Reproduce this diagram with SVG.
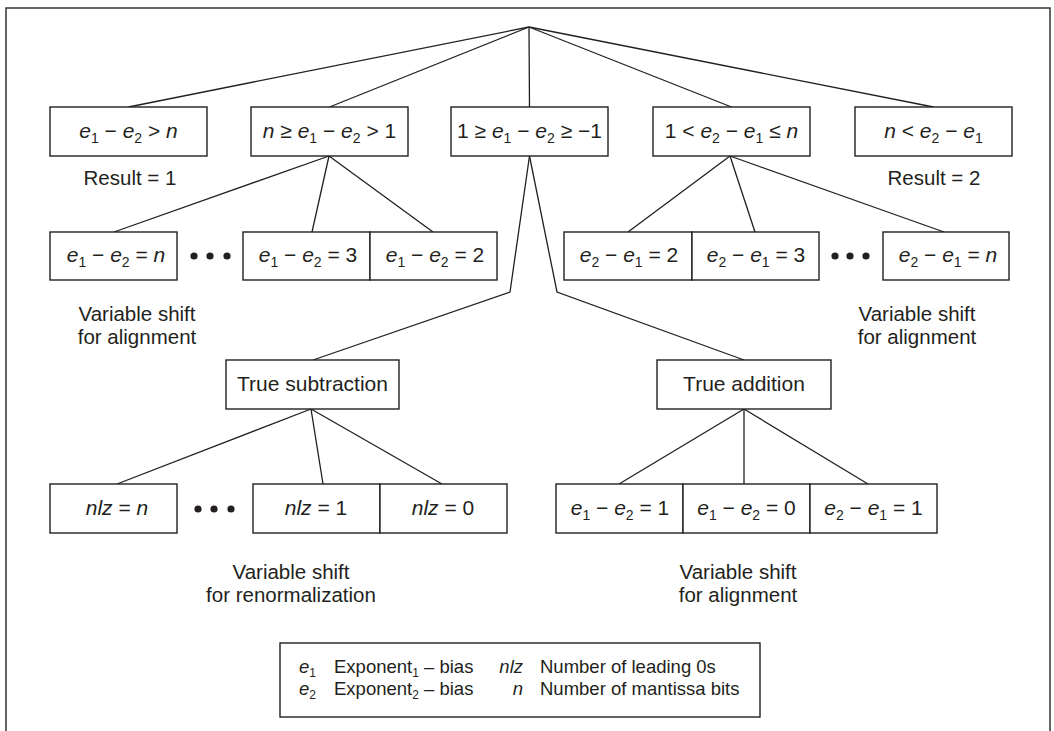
<svg xmlns="http://www.w3.org/2000/svg" width="1054" height="731" viewBox="0 0 1054 731">
<style>
text{font-family:"Liberation Sans",Arial,Helvetica,sans-serif;fill:#231f20;font-size:21px}
.lbl{font-size:20.5px;text-anchor:middle}
.bt{text-anchor:middle}
.i{font-style:italic}
.sb{font-size:14px}
.lg{font-size:18.5px}
.lg .sb{font-size:12px}
rect{fill:#fff;stroke:#231f20;stroke-width:1.4}
line,polyline{stroke:#231f20;stroke-width:1.3;fill:none}
.dot{fill:#231f20}
</style>
<rect x="0" y="0" width="1054" height="731" style="fill:#fff;stroke:none"/>
<polyline points="6,731 6,8 1050,8 1050,731" style="stroke:#333;stroke-width:1.5"/>

<g id="connectors">
<line x1="529" y1="27" x2="128.5" y2="107"/>
<line x1="529" y1="27" x2="329.5" y2="107"/>
<line x1="529" y1="27" x2="529.5" y2="107"/>
<line x1="529" y1="27" x2="731.5" y2="107"/>
<line x1="529" y1="27" x2="933.5" y2="107"/>
<line x1="329" y1="156" x2="114" y2="232"/>
<line x1="329" y1="156" x2="312" y2="232"/>
<line x1="329" y1="156" x2="433" y2="232"/>
<line x1="730" y1="156" x2="628" y2="232"/>
<line x1="730" y1="156" x2="755" y2="232"/>
<line x1="730" y1="156" x2="944" y2="232"/>
<polyline points="529.5,156 510,292 313,360"/>
<polyline points="529.5,156 557,292 744,360"/>
<line x1="311" y1="409" x2="117" y2="484"/>
<line x1="311" y1="409" x2="323" y2="484"/>
<line x1="311" y1="409" x2="442" y2="484"/>
<line x1="744" y1="409" x2="619" y2="484"/>
<line x1="744" y1="409" x2="744" y2="484"/>
<line x1="744" y1="409" x2="868" y2="484"/>
</g>

<g id="n1"><rect x="50" y="107" width="157" height="49"/>
<text class="bt" x="128.5" y="138"><tspan class="i">e</tspan><tspan class="sb" dy="5">1</tspan><tspan dy="-5"> − </tspan><tspan class="i">e</tspan><tspan class="sb" dy="5">2</tspan><tspan dy="-5"> &gt; </tspan><tspan class="i">n</tspan></text></g>
<g id="n2"><rect x="251" y="107" width="157" height="49"/>
<text class="bt" x="329.5" y="138"><tspan class="i">n</tspan> ≥ <tspan class="i">e</tspan><tspan class="sb" dy="5">1</tspan><tspan dy="-5"> − </tspan><tspan class="i">e</tspan><tspan class="sb" dy="5">2</tspan><tspan dy="-5"> &gt; 1</tspan></text></g>
<g id="n3"><rect x="451" y="107" width="157" height="49"/>
<text class="bt" x="529.5" y="138">1 ≥ <tspan class="i">e</tspan><tspan class="sb" dy="5">1</tspan><tspan dy="-5"> − </tspan><tspan class="i">e</tspan><tspan class="sb" dy="5">2</tspan><tspan dy="-5"> ≥ −1</tspan></text></g>
<g id="n4"><rect x="653" y="107" width="157" height="49"/>
<text class="bt" x="731.5" y="138">1 &lt; <tspan class="i">e</tspan><tspan class="sb" dy="5">2</tspan><tspan dy="-5"> − </tspan><tspan class="i">e</tspan><tspan class="sb" dy="5">1</tspan><tspan dy="-5"> ≤ </tspan><tspan class="i">n</tspan></text></g>
<g id="n5"><rect x="855" y="107" width="157" height="49"/>
<text class="bt" x="933.5" y="138"><tspan class="i">n</tspan> &lt; <tspan class="i">e</tspan><tspan class="sb" dy="5">2</tspan><tspan dy="-5"> − </tspan><tspan class="i">e</tspan><tspan class="sb" dy="5">1</tspan></text></g>

<g id="res1"><text class="lbl" x="130" y="185">Result = 1</text></g>
<g id="res2"><text class="lbl" x="934" y="185">Result = 2</text></g>

<g id="l1"><rect x="50" y="232" width="127" height="48"/>
<text class="bt" x="116" y="262"><tspan class="i">e</tspan><tspan class="sb" dy="5">1</tspan><tspan dy="-5"> − </tspan><tspan class="i">e</tspan><tspan class="sb" dy="5">2</tspan><tspan dy="-5"> = </tspan><tspan class="i">n</tspan></text></g>
<g id="ldots"><circle class="dot" cx="194" cy="256" r="3.6"/><circle class="dot" cx="210" cy="256" r="3.6"/><circle class="dot" cx="227" cy="256" r="3.6"/></g>
<g id="l2"><rect x="243" y="232" width="127" height="48"/>
<text class="bt" x="308" y="262"><tspan class="i">e</tspan><tspan class="sb" dy="5">1</tspan><tspan dy="-5"> − </tspan><tspan class="i">e</tspan><tspan class="sb" dy="5">2</tspan><tspan dy="-5"> = 3</tspan></text></g>
<g id="l3"><rect x="370" y="232" width="127" height="48"/>
<text class="bt" x="435" y="262"><tspan class="i">e</tspan><tspan class="sb" dy="5">1</tspan><tspan dy="-5"> − </tspan><tspan class="i">e</tspan><tspan class="sb" dy="5">2</tspan><tspan dy="-5"> = 2</tspan></text></g>

<g id="r1"><rect x="564" y="232" width="128" height="48"/>
<text class="bt" x="629" y="262"><tspan class="i">e</tspan><tspan class="sb" dy="5">2</tspan><tspan dy="-5"> − </tspan><tspan class="i">e</tspan><tspan class="sb" dy="5">1</tspan><tspan dy="-5"> = 2</tspan></text></g>
<g id="r2"><rect x="692" y="232" width="127" height="48"/>
<text class="bt" x="756" y="262"><tspan class="i">e</tspan><tspan class="sb" dy="5">2</tspan><tspan dy="-5"> − </tspan><tspan class="i">e</tspan><tspan class="sb" dy="5">1</tspan><tspan dy="-5"> = 3</tspan></text></g>
<g id="rdots"><circle class="dot" cx="835" cy="256" r="3.6"/><circle class="dot" cx="850" cy="256" r="3.6"/><circle class="dot" cx="866" cy="256" r="3.6"/></g>
<g id="r3"><rect x="883" y="232" width="126" height="48"/>
<text class="bt" x="948" y="262"><tspan class="i">e</tspan><tspan class="sb" dy="5">2</tspan><tspan dy="-5"> − </tspan><tspan class="i">e</tspan><tspan class="sb" dy="5">1</tspan><tspan dy="-5"> = </tspan><tspan class="i">n</tspan></text></g>

<g id="vs1"><text class="lbl" x="137" y="321">Variable shift</text><text class="lbl" x="137" y="344">for alignment</text></g>
<g id="vs2"><text class="lbl" x="917" y="321">Variable shift</text><text class="lbl" x="917" y="344">for alignment</text></g>

<g id="tsub"><rect x="226" y="360" width="173" height="49"/>
<text class="bt" x="312.5" y="391">True subtraction</text></g>
<g id="tadd"><rect x="657" y="360" width="174" height="49"/>
<text class="bt" x="744" y="391">True addition</text></g>

<g id="s1"><rect x="50" y="484" width="127" height="49"/>
<text class="bt" x="117" y="515"><tspan class="i">nlz</tspan> = <tspan class="i">n</tspan></text></g>
<g id="sdots"><circle class="dot" cx="198" cy="509" r="3.6"/><circle class="dot" cx="214" cy="509" r="3.6"/><circle class="dot" cx="231" cy="509" r="3.6"/></g>
<g id="s2"><rect x="253" y="484" width="127" height="49"/>
<text class="bt" x="316" y="515"><tspan class="i">nlz</tspan> = 1</text></g>
<g id="s3"><rect x="380" y="484" width="127" height="49"/>
<text class="bt" x="443" y="515"><tspan class="i">nlz</tspan> = 0</text></g>

<g id="a1"><rect x="556" y="484" width="127" height="49"/>
<text class="bt" x="620" y="515"><tspan class="i">e</tspan><tspan class="sb" dy="5">1</tspan><tspan dy="-5"> − </tspan><tspan class="i">e</tspan><tspan class="sb" dy="5">2</tspan><tspan dy="-5"> = 1</tspan></text></g>
<g id="a2"><rect x="683" y="484" width="127" height="49"/>
<text class="bt" x="746.5" y="515"><tspan class="i">e</tspan><tspan class="sb" dy="5">1</tspan><tspan dy="-5"> − </tspan><tspan class="i">e</tspan><tspan class="sb" dy="5">2</tspan><tspan dy="-5"> = 0</tspan></text></g>
<g id="a3"><rect x="810" y="484" width="127" height="49"/>
<text class="bt" x="873.5" y="515"><tspan class="i">e</tspan><tspan class="sb" dy="5">2</tspan><tspan dy="-5"> − </tspan><tspan class="i">e</tspan><tspan class="sb" dy="5">1</tspan><tspan dy="-5"> = 1</tspan></text></g>

<g id="vs3"><text class="lbl" x="291" y="579">Variable shift</text><text class="lbl" x="291" y="602">for renormalization</text></g>
<g id="vs4"><text class="lbl" x="738" y="579">Variable shift</text><text class="lbl" x="738" y="602">for alignment</text></g>

<g id="legend"><rect x="280" y="643" width="480" height="74"/>
<text class="lg" x="299" y="673"><tspan class="i">e</tspan><tspan class="sb" dy="4">1</tspan></text>
<text class="lg" x="299" y="695"><tspan class="i">e</tspan><tspan class="sb" dy="4">2</tspan></text>
<text class="lg" x="334" y="673">Exponent<tspan class="sb" dy="4">1</tspan><tspan dy="-4"> – bias</tspan></text>
<text class="lg" x="334" y="695">Exponent<tspan class="sb" dy="4">2</tspan><tspan dy="-4"> – bias</tspan></text>
<text class="lg i" x="523" y="673" text-anchor="end">nlz</text>
<text class="lg i" x="523" y="695" text-anchor="end">n</text>
<text class="lg" x="540" y="673">Number of leading 0s</text>
<text class="lg" x="540" y="695">Number of mantissa bits</text>
</g>
</svg>
